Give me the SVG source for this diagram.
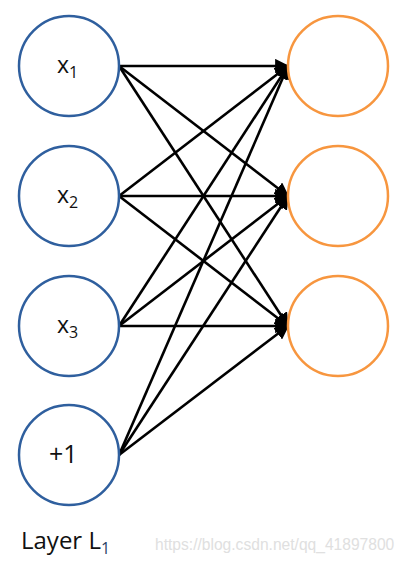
<svg xmlns="http://www.w3.org/2000/svg" width="407" height="562" viewBox="0 0 407 562">
<style>
.in{fill:#fff;stroke:#2f5f9e;stroke-width:2.5}
.out{fill:#fff;stroke:#f7963f;stroke-width:2.5}
.c line{stroke:#000;stroke-width:2.6;marker-end:url(#ah)}
.t{font-family:"Open Sans","Liberation Sans",sans-serif;fill:#111}
.wm{font-family:"Liberation Sans",Arial,sans-serif;font-size:15.6px;fill:#e0e0e0}
</style>
<defs>
<marker id="ah" viewBox="0 0 10 10" refX="9" refY="5" markerWidth="5.5" markerHeight="5.5" orient="auto" markerUnits="strokeWidth">
<path d="M0,0 L10,5 L0,10 Z" fill="#000"/>
</marker>
</defs>
<rect width="407" height="562" fill="#fff"/>
<g class="c" id="connectors">
<line x1="119" y1="66" x2="288" y2="66"/>
<line x1="119" y1="66" x2="288" y2="196"/>
<line x1="119" y1="66" x2="288" y2="326"/>
<line x1="119" y1="196" x2="288" y2="66"/>
<line x1="119" y1="196" x2="288" y2="196"/>
<line x1="119" y1="196" x2="288" y2="326"/>
<line x1="119" y1="326" x2="288" y2="66"/>
<line x1="119" y1="326" x2="288" y2="196"/>
<line x1="119" y1="326" x2="288" y2="326"/>
<line x1="119" y1="455" x2="288" y2="66"/>
<line x1="119" y1="455" x2="288" y2="196"/>
<line x1="119" y1="455" x2="288" y2="326"/>
</g>
<g id="x1"><circle class="in" cx="69" cy="66" r="50"/><text class="t" x="57" y="73" font-size="23">x<tspan font-size="16" dy="5">1</tspan></text></g>
<g id="x2"><circle class="in" cx="69" cy="196" r="50"/><text class="t" x="57" y="203" font-size="23">x<tspan font-size="16" dy="5">2</tspan></text></g>
<g id="x3"><circle class="in" cx="69" cy="326" r="50"/><text class="t" x="57" y="333" font-size="23">x<tspan font-size="16" dy="5">3</tspan></text></g>
<g id="bias"><circle class="in" cx="69" cy="455" r="50"/><text class="t" x="49" y="463" font-size="25">+1</text></g>
<g id="h1"><circle class="out" cx="338" cy="66" r="50"/></g>
<g id="h2"><circle class="out" cx="338" cy="196" r="50"/></g>
<g id="h3"><circle class="out" cx="338" cy="326" r="50"/></g>
<text class="t" x="21" y="549" font-size="24">Layer L<tspan font-size="16" dy="5" fill="#2a3f66">1</tspan></text>
<text class="wm" x="155" y="550">https://blog.csdn.net/qq_41897800</text>
</svg>
